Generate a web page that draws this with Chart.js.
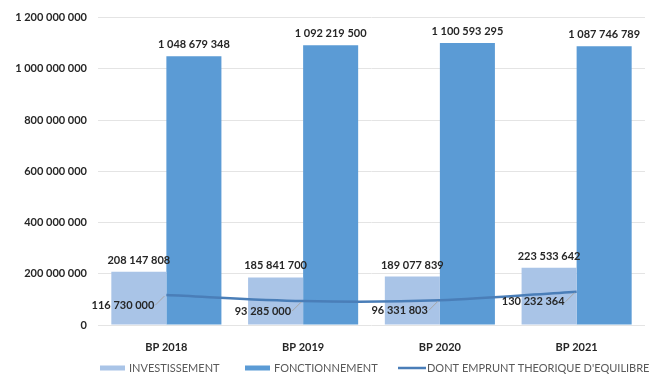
<!DOCTYPE html>
<html>
<head>
<meta charset="utf-8">
<script src="https://cdn.jsdelivr.net/npm/chart.js@4/dist/chart.umd.min.js"></script>
<style>
  html, body { margin: 0; padding: 0; background: #fff; }
  #wrap { width: 654px; height: 374px; }
</style>
</head>
<body>
<div id="wrap"><canvas id="budget"></canvas></div>
<script>
const years = ['BP 2018', 'BP 2019', 'BP 2020', 'BP 2021'];
const investissement = [208147808, 185841700, 189077839, 223533642];
const fonctionnement = [1048679348, 1092219500, 1100593295, 1087746789];
const emprunt = [116730000, 93285000, 96331803, 130232364];
const seriesNames = ['INVESTISSEMENT', 'FONCTIONNEMENT', 'DONT EMPRUNT THEORIQUE D\'EQUILIBRE'];
const yTicks = [0, 200000000, 400000000, 600000000, 800000000, 1000000000, 1200000000];

const FONT = 'Lato, "Open Sans", sans-serif';
const colInv = '#A9C4E7';
const colFonc = '#5B9BD5';
const colLine = '#4A7EB8';

// 1 048 679 348 style
function fmt(n) {
  return String(Math.round(n)).replace(/\B(?=(\d{3})+(?!\d))/g, ' ');
}

const labelPlugin = {
  id: 'valueLabels',
  afterDatasetsDraw(chart) {
    const ctx = chart.ctx;
    ctx.save();
    ctx.font = 'bold 11px ' + FONT;
    ctx.fillStyle = '#262626';

    // bar values above each bar
    [0, 1].forEach(function (di) {
      const meta = chart.getDatasetMeta(di);
      meta.data.forEach(function (bar, i) {
        ctx.textAlign = 'center';
        ctx.textBaseline = 'bottom';
        ctx.fillText(fmt(chart.data.datasets[di].data[i]), bar.x, bar.y - 6);
      });
    });

    // line values, left of the point with a small leader
    const lineMeta = chart.getDatasetMeta(2);
    lineMeta.data.forEach(function (pt, i) {
      const lx = pt.x - 12;
      const ly = pt.y + 10;
      ctx.strokeStyle = '#A6A6A6';
      ctx.lineWidth = 1;
      ctx.beginPath();
      ctx.moveTo(lx + 1, ly);
      ctx.lineTo(pt.x - 2, pt.y + 1);
      ctx.stroke();
      ctx.textAlign = 'right';
      ctx.textBaseline = 'middle';
      ctx.fillText(fmt(emprunt[i]), lx, ly);
    });
    ctx.restore();
  },
  afterDraw(chart) {
    // legend along the bottom
    const ctx = chart.ctx;
    ctx.save();
    ctx.font = '11px ' + FONT;
    ctx.textBaseline = 'middle';
    ctx.textAlign = 'left';
    const y = 368;
    const items = [
      { x: 100, color: colInv, type: 'box' },
      { x: 245, color: colFonc, type: 'box' },
      { x: 398, color: colLine, type: 'line' }
    ];
    items.forEach(function (it, i) {
      if (it.type === 'box') {
        ctx.fillStyle = it.color;
        ctx.fillRect(it.x, y - 2.5, 25, 5);
      } else {
        ctx.strokeStyle = it.color;
        ctx.lineWidth = 2.5;
        ctx.beginPath();
        ctx.moveTo(it.x, y);
        ctx.lineTo(it.x + 28, y);
        ctx.stroke();
      }
      ctx.fillStyle = '#595959';
      ctx.fillText(seriesNames[i], it.x + 29, y);
    });
    ctx.restore();
  }
};

new Chart(document.getElementById('budget'), {
  type: 'bar',
  data: {
    labels: years,
    datasets: [
      {
        label: seriesNames[0],
        data: investissement,
        backgroundColor: colInv,
        order: 2
      },
      {
        label: seriesNames[1],
        data: fonctionnement,
        backgroundColor: colFonc,
        order: 2
      },
      {
        type: 'line',
        label: seriesNames[2],
        data: emprunt,
        borderColor: colLine,
        backgroundColor: colLine,
        borderWidth: 2.5,
        pointRadius: 0,
        tension: 0.3,
        order: 1
      }
    ]
  },
  options: {
    responsive: true,
    maintainAspectRatio: false,
    animation: false,
    layout: { padding: { top: 8, right: 9, left: 0, bottom: 0 } },
    datasets: {
      bar: { categoryPercentage: 0.805, barPercentage: 1.0 }
    },
    plugins: {
      legend: { display: false },
      tooltip: { enabled: false }
    },
    scales: {
      x: {
        grid: { display: false },
        border: { display: false },
        ticks: {
          color: '#262626',
          font: { family: FONT, size: 11, weight: 'bold' },
          padding: 8
        },
        afterFit(scale) { scale.height = 49; }
      },
      y: {
        min: 0,
        max: 1200000000,
        afterBuildTicks(scale) {
          scale.ticks = yTicks.map(function (v) { return { value: v }; });
        },
        grid: { color: '#E4E4E4', lineWidth: 1, drawTicks: false },
        border: { display: false },
        ticks: {
          color: '#262626',
          font: { family: FONT, size: 11, weight: 'bold' },
          padding: 11,
          callback: function (v) { return fmt(v); }
        },
        afterFit(scale) { scale.width = 98; }
      }
    }
  },
  plugins: [labelPlugin]
});
</script>
</body>
</html>
